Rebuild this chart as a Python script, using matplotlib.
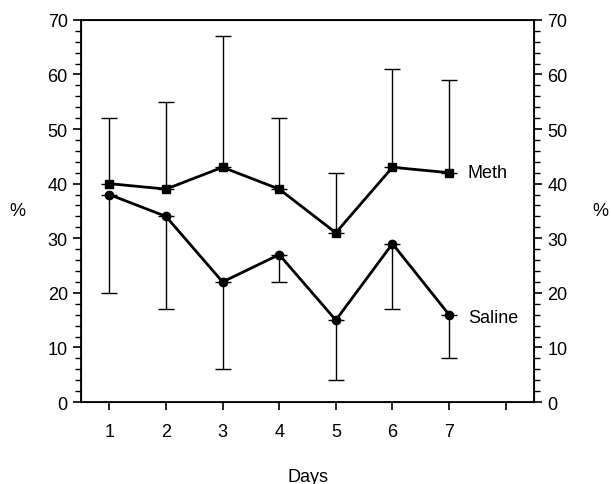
import numpy as np
import matplotlib.pyplot as plt
from matplotlib.ticker import MultipleLocator

plt.rcParams['font.family'] = ['Liberation Sans', 'DejaVu Sans']

days = [1, 2, 3, 4, 5, 6, 7]
meth = [40, 39, 43, 39, 31, 43, 42]
meth_upper = [52, 55, 67, 52, 42, 61, 59]
saline = [38, 34, 22, 27, 15, 29, 16]
saline_lower = [20, 17, 6, 22, 4, 17, 8]

meth_err = np.array(meth_upper) - np.array(meth)
saline_err = np.array(saline) - np.array(saline_lower)

fig = plt.figure(figsize=(6.11, 4.85), dpi=100)
ax = fig.add_axes([0.1326, 0.169, 0.7414, 0.788])

ax.errorbar(days, meth, yerr=[np.zeros(7), meth_err], color="black",
            lw=2, elinewidth=1, capsize=6, capthick=1, marker="s", ms=6)
ax.errorbar(days, saline, yerr=[saline_err, np.zeros(7)], color="black",
            lw=2, elinewidth=1, capsize=6, capthick=1, marker="o", ms=6)

ax.text(7.33, meth[-1], "Meth", fontsize=13, va="center")
ax.text(7.33, saline[-1] - 0.6, "Saline", fontsize=13, va="center")

ax.set_xlim(0.5, 8.5)
ax.set_ylim(0, 70)
ax.set_xticks([1, 2, 3, 4, 5, 6, 7, 8])
ax.set_xticklabels(["1", "2", "3", "4", "5", "6", "7", ""])
ax.yaxis.set_major_locator(MultipleLocator(10))
ax.yaxis.set_minor_locator(MultipleLocator(2))
ax.tick_params(axis="both", which="major", length=6, width=1.2, labelsize=13,
               direction="out")
ax.tick_params(axis="y", which="minor", length=4, width=1, direction="out")
ax.tick_params(axis="x", pad=9)
ax.set_xlabel("Days", fontsize=13, labelpad=20)
ax.set_ylabel("%", fontsize=13, rotation=0, labelpad=22, va="center")
for s in ax.spines.values():
    s.set_linewidth(1.3)

ax2 = ax.twinx()
ax2.set_ylim(0, 70)
ax2.yaxis.set_major_locator(MultipleLocator(10))
ax2.yaxis.set_minor_locator(MultipleLocator(2))
ax2.tick_params(axis="y", which="major", length=6, width=1.2, labelsize=13,
                direction="out")
ax2.tick_params(axis="y", which="minor", length=4, width=1, direction="out")
ax2.set_ylabel("%", fontsize=13, rotation=0, labelpad=24, va="center")

fig.savefig("out.png", dpi=100)
